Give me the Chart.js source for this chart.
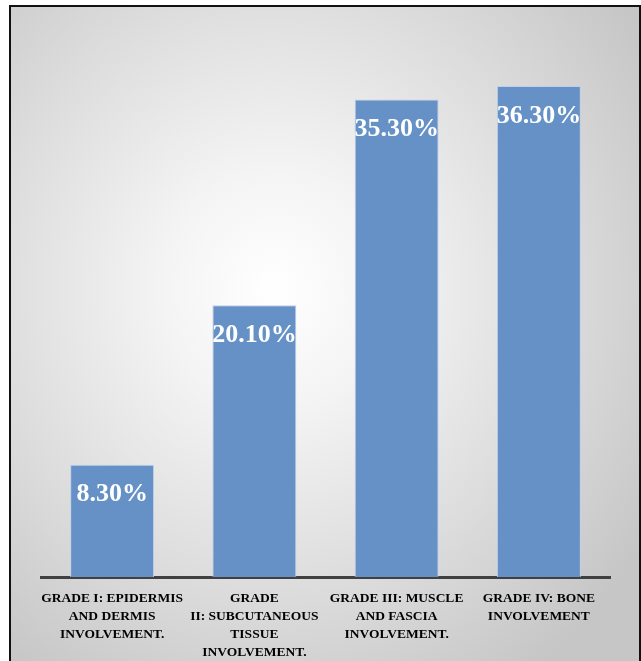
<!DOCTYPE html>
<html>
<head>
<meta charset="utf-8">
<script src="https://cdn.jsdelivr.net/npm/chart.js@4"></script>
<style>
    html, body { margin: 0; padding: 0; width: 641px; height: 661px; overflow: hidden; background: #fff; }
    #frame {
        position: absolute; left: 9px; top: 5px; width: 628px; height: 670px;
        border: 2px solid #111;
        background: radial-gradient(ellipse 70% 70% at 42% 42%, #ffffff 0%, #f4f4f4 25%, #dcdcdc 65%, #c6c6c6 100%);
    }
    #wrap { position: absolute; left: 0; top: 0; width: 641px; height: 661px; }
</style>
</head>
<body>
<div id="frame"></div>
<div id="wrap"><canvas id="gradeChart"></canvas></div>
<script>
    const labels = [
        ['GRADE I: EPIDERMIS', 'AND DERMIS', 'INVOLVEMENT.'],
        ['GRADE', 'II: SUBCUTANEOUS', 'TISSUE', 'INVOLVEMENT.'],
        ['GRADE III: MUSCLE', 'AND FASCIA', 'INVOLVEMENT.'],
        ['GRADE IV: BONE', 'INVOLVEMENT']
    ];
    const percents = [8.3, 20.1, 35.3, 36.3];
    const yMax = 40;

    // white value labels inside the top of each bar
    const valueLabels = {
        id: 'valueLabels',
        afterDatasetsDraw(chart) {
            const c = chart.ctx;
            const meta = chart.getDatasetMeta(0);
            c.save();
            c.fillStyle = '#fff';
            c.font = 'bold 26px "Liberation Serif", "Times New Roman", serif';
            c.textAlign = 'center';
            c.textBaseline = 'middle';
            meta.data.forEach(function(bar, i) {
                c.fillText(percents[i].toFixed(2) + '%', bar.x, bar.y + 30);
            });
            c.restore();
        }
    };

    const ctx = document.getElementById('gradeChart').getContext('2d');
    new Chart(ctx, {
        type: 'bar',
        data: {
            labels: labels,
            datasets: [{
                data: percents,
                backgroundColor: '#6591c6',
                borderColor: '#bfcfe6',
                borderWidth: 1,
                barPercentage: 0.59,
                categoryPercentage: 1
            }]
        },
        options: {
            responsive: true,
            maintainAspectRatio: false,
            animation: false,
            layout: {
                padding: { top: 36, left: 41, right: 31, bottom: 0 }
            },
            plugins: {
                legend: { display: false },
                tooltip: { enabled: false }
            },
            scales: {
                x: {
                    afterFit: function(scale) { scale.height = 84; },
                    grid: { display: false, drawTicks: false },
                    border: { display: true, color: '#404040', width: 3 },
                    ticks: {
                        autoSkip: false,
                        maxRotation: 0,
                        minRotation: 0,
                        padding: 13,
                        color: '#000',
                        font: {
                            family: '"Liberation Serif", "Times New Roman", serif',
                            size: 13.5,
                            weight: 'bold',
                            lineHeight: 1.33
                        }
                    }
                },
                y: {
                    display: false,
                    min: 0,
                    max: yMax
                }
            }
        },
        plugins: [valueLabels]
    });
</script>
</body>
</html>
